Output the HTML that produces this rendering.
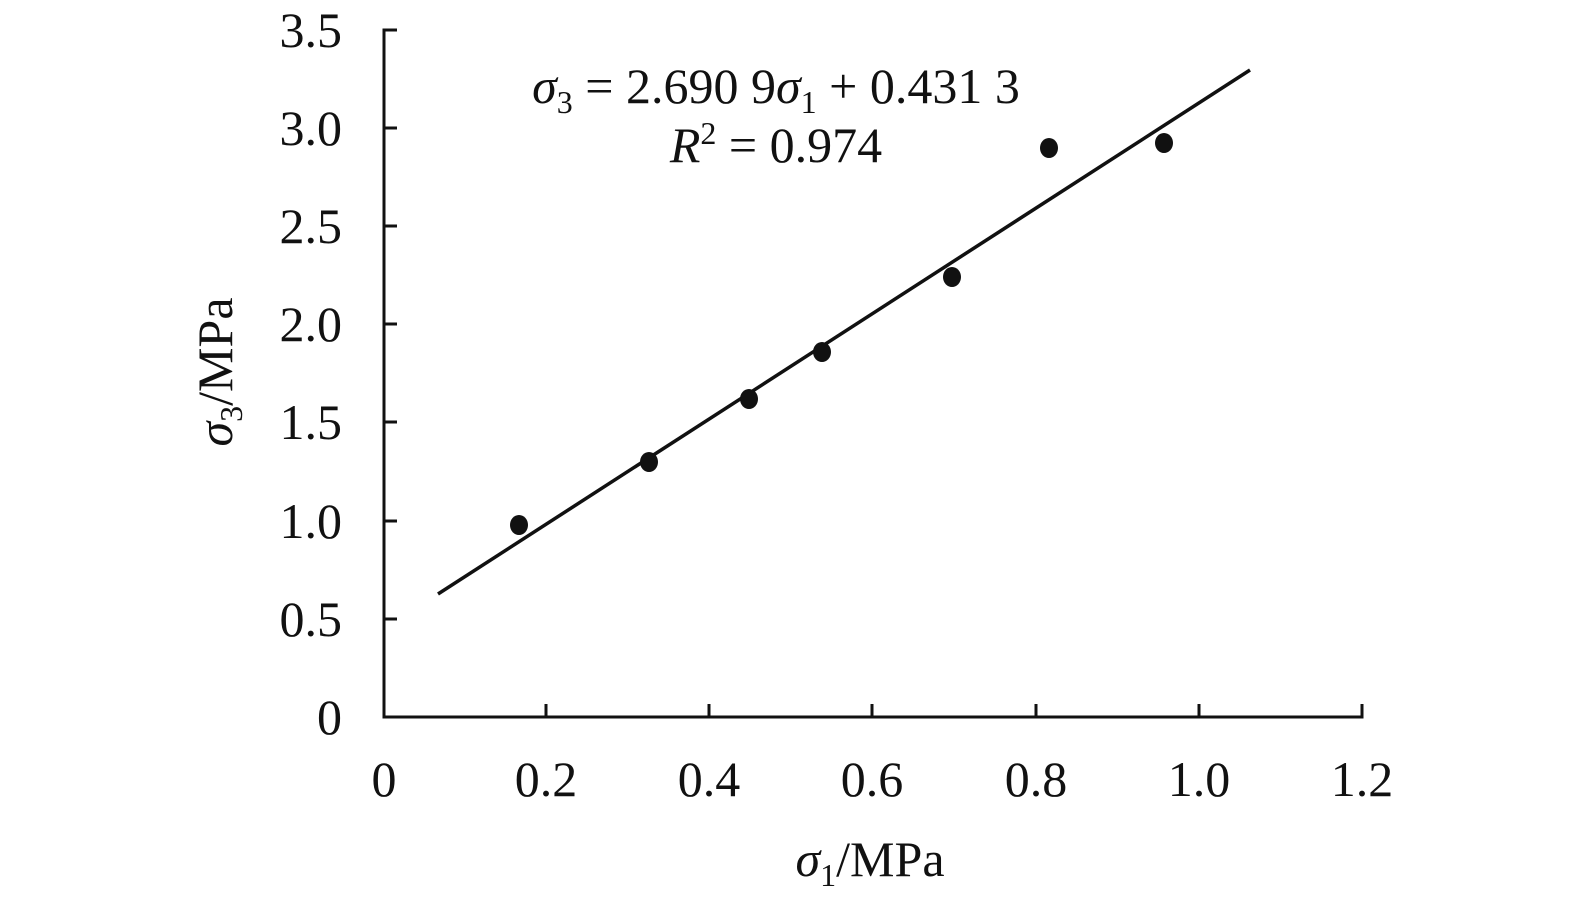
<!DOCTYPE html><html><head><style>body{margin:0;background:#fff}</style></head><body>
<svg width="1575" height="905" xmlns="http://www.w3.org/2000/svg" font-family="Liberation Serif, serif" fill="#111">
<g stroke="#111" stroke-width="3" fill="none">
<polyline points="397,30 384,30 384,717 1362,717 1362,704"/>
<line x1="384" y1="128" x2="397" y2="128"/><line x1="384" y1="226" x2="397" y2="226"/><line x1="384" y1="324" x2="397" y2="324"/><line x1="384" y1="422" x2="397" y2="422"/><line x1="384" y1="521" x2="397" y2="521"/><line x1="384" y1="619" x2="397" y2="619"/>
<line x1="546" y1="717" x2="546" y2="704"/><line x1="709" y1="717" x2="709" y2="704"/><line x1="872" y1="717" x2="872" y2="704"/><line x1="1036" y1="717" x2="1036" y2="704"/><line x1="1199" y1="717" x2="1199" y2="704"/>
<line x1="438" y1="594" x2="1250" y2="70" stroke-width="3.5"/>
</g>
<g font-size="50" text-anchor="end">
<text x="342" y="47">3.5</text><text x="342" y="145">3.0</text><text x="342" y="243">2.5</text><text x="342" y="341">2.0</text><text x="342" y="439">1.5</text><text x="342" y="538">1.0</text><text x="342" y="636">0.5</text><text x="342" y="734">0</text>
</g>
<g font-size="50" text-anchor="middle">
<text x="384" y="796">0</text><text x="546" y="796">0.2</text><text x="709" y="796">0.4</text><text x="872" y="796">0.6</text><text x="1036" y="796">0.8</text><text x="1199" y="796">1.0</text><text x="1362" y="796">1.2</text>
<text x="870" y="876"><tspan font-style="italic">σ</tspan><tspan font-size="32" dy="10">1</tspan><tspan dy="-10">/MPa</tspan></text>
<text x="776" y="103"><tspan font-style="italic">σ</tspan><tspan font-size="32" dy="10">3</tspan><tspan dy="-10"> = 2.690 9</tspan><tspan font-style="italic">σ</tspan><tspan font-size="32" dy="10">1</tspan><tspan dy="-10"> + 0.431 3</tspan></text>
<text x="776" y="162"><tspan font-style="italic">R</tspan><tspan font-size="32" dy="-18">2</tspan><tspan dy="18"> = 0.974</tspan></text>
</g>
<text font-size="50" text-anchor="middle" transform="translate(232,372) rotate(-90)"><tspan font-style="italic">σ</tspan><tspan font-size="32" dy="10">3</tspan><tspan dy="-10">/MPa</tspan></text>
<g>
<ellipse cx="519" cy="525" rx="9" ry="10"/><ellipse cx="649" cy="462" rx="9" ry="10"/><ellipse cx="749" cy="399" rx="9" ry="10"/><ellipse cx="822" cy="352" rx="9" ry="10"/><ellipse cx="952" cy="277" rx="9" ry="10"/><ellipse cx="1049" cy="148" rx="9" ry="10"/><ellipse cx="1164" cy="143" rx="9" ry="10"/>
</g>
</svg></body></html>
